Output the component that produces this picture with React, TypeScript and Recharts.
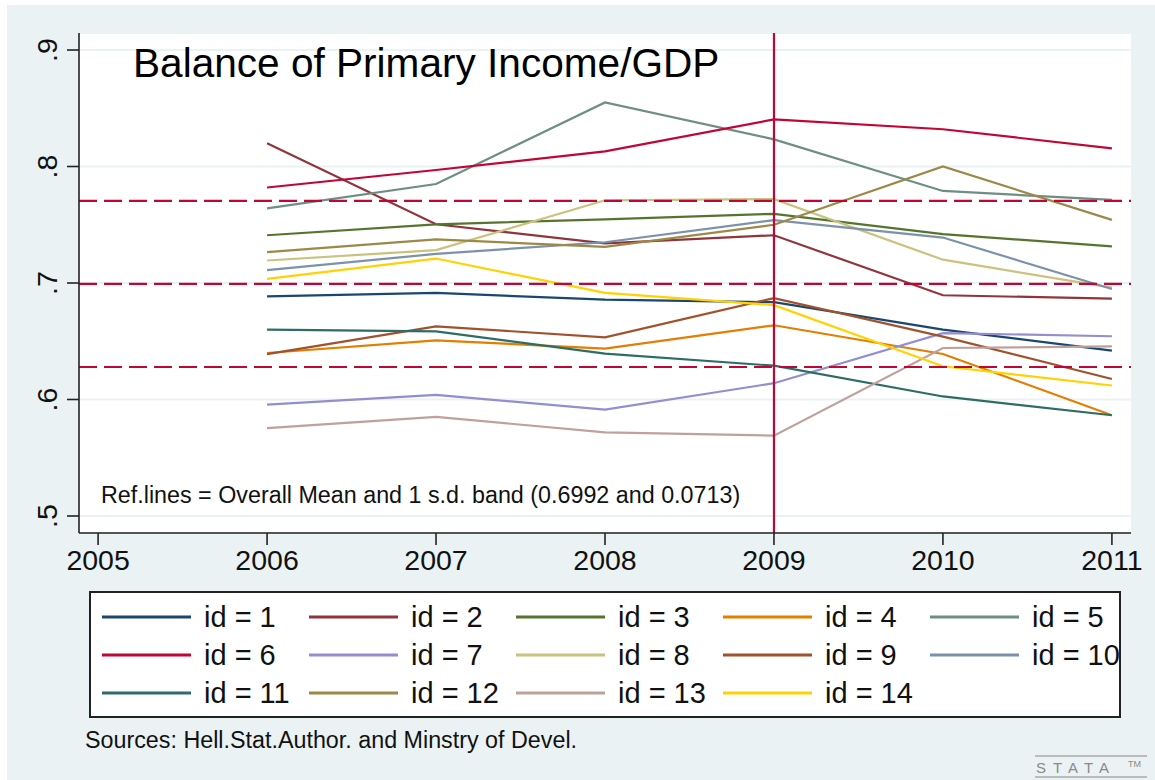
import React from 'react';
import { LineChart, Line, XAxis, YAxis, CartesianGrid, ReferenceLine } from 'recharts';

const FONT = '"Liberation Sans", Arial, Helvetica, sans-serif';

// ---- data ----
const years = [2006, 2007, 2008, 2009, 2010, 2011];
const xTicks = [2005, 2006, 2007, 2008, 2009, 2010, 2011];
const yTicks = [0.5, 0.6, 0.7, 0.8, 0.9];
const yTickLabels = ['.5', '.6', '.7', '.8', '.9'];

const id1 = [0.6886, 0.6915, 0.6857, 0.6835, 0.660, 0.642];
const id2 = [0.820, 0.7504, 0.734, 0.741, 0.6895, 0.6866];
const id3 = [0.741, 0.7504, 0.7547, 0.7594, 0.742, 0.7314];
const id4 = [0.6399, 0.6508, 0.6437, 0.6637, 0.6391, 0.5865];
const id5 = [0.764, 0.785, 0.855, 0.8233, 0.779, 0.7714];
const id6 = [0.782, 0.797, 0.813, 0.8404, 0.832, 0.8156];
const id7 = [0.5956, 0.604, 0.5913, 0.614, 0.657, 0.6543];
const id8 = [0.7193, 0.7282, 0.771, 0.772, 0.720, 0.696];
const id9 = [0.639, 0.6628, 0.6534, 0.687, 0.654, 0.6176];
const id10 = [0.711, 0.725, 0.735, 0.754, 0.739, 0.6949];
const id11 = [0.660, 0.6585, 0.6394, 0.629, 0.6026, 0.5865];
const id12 = [0.7265, 0.7374, 0.731, 0.750, 0.800, 0.7542];
const id13 = [0.5755, 0.585, 0.5718, 0.569, 0.6442, 0.6456];
const id14 = [0.7035, 0.721, 0.6915, 0.681, 0.6285, 0.612];

const seriesValues = [id1, id2, id3, id4, id5, id6, id7, id8, id9, id10, id11, id12, id13, id14];
const seriesLabels = seriesValues.map((_, i) => `id = ${i + 1}`);
const seriesColors = [
  '#1a476f', '#90353b', '#55752f', '#e37e00', '#6e8e84', '#c10534', '#938dd2',
  '#cac27e', '#a0522d', '#7b92a8', '#2d6d66', '#9c8847', '#bfa19c', '#ffd200',
];

const overallMean = 0.6992;
const overallSd = 0.0713;
const refLevels = [overallMean + overallSd, overallMean, overallMean - overallSd];
const cutYear = 2009;

const titleText = 'Balance of Primary Income/GDP';
const noteText = 'Ref.lines = Overall Mean and 1 s.d. band (0.6992 and 0.0713)';
const sourceText = 'Sources: Hell.Stat.Author. and Minstry of Devel.';

const data = years.map((yr, i) => {
  const row: Record<string, number> = { year: yr };
  seriesValues.forEach((vals, s) => {
    row[`s${s + 1}`] = vals[i];
  });
  return row;
});

const XTick = (props: any) => {
  const { x, y, payload } = props;
  return (
    <text x={x} y={y + 23} textAnchor="middle" fontSize={28.5} fontFamily={FONT} fill="#111">
      {payload.value}
    </text>
  );
};

const YTick = (props: any) => {
  const { x, y, payload } = props;
  const idx = yTicks.indexOf(payload.value);
  const label = idx >= 0 ? yTickLabels[idx] : String(payload.value);
  const bx = x - 8;
  return (
    <text
      x={bx}
      y={y}
      textAnchor="middle"
      fontSize={28.5}
      fontFamily={FONT}
      fill="#111"
      transform={`rotate(-90, ${bx}, ${y})`}
    >
      {label}
    </text>
  );
};

export default function App() {
  const legendLeft = 90;
  const legendTop = 592;
  const colW = 207;
  const rowH = 38;
  return (
    <div
      style={{
        position: 'absolute',
        left: 0,
        top: 0,
        width: 1155,
        height: 780,
        background: '#ffffff',
        overflow: 'hidden',
        fontFamily: FONT,
      }}
    >
      <div style={{ position: 'absolute', left: 7, top: 5, right: 0, bottom: 0, background: '#EAF2F3' }} />
      <div style={{ position: 'absolute', left: 0, top: 0 }}>
        <LineChart width={1155} height={780} data={data} margin={{ top: 33, right: 24, bottom: 207, left: 0 }}>
          <CartesianGrid horizontal vertical={false} fill="#ffffff" stroke="#EAF2F3" strokeWidth={2} />
          <XAxis
            type="number"
            dataKey="year"
            domain={[2004.887, 2011.113]}
            ticks={xTicks}
            interval={0}
            allowDataOverflow
            height={40}
            tickSize={12}
            tick={<XTick />}
            axisLine={{ stroke: '#222', strokeWidth: 1.6 }}
            tickLine={{ stroke: '#222', strokeWidth: 1.6 }}
          />
          <YAxis
            type="number"
            domain={[0.4854, 0.9146]}
            ticks={yTicks}
            interval={0}
            allowDataOverflow
            width={79}
            tickSize={12}
            tick={<YTick />}
            axisLine={{ stroke: '#222', strokeWidth: 1.6 }}
            tickLine={{ stroke: '#222', strokeWidth: 1.6 }}
          />
          {seriesValues.map((_, s) => (
            <Line
              key={s}
              type="linear"
              dataKey={`s${s + 1}`}
              stroke={seriesColors[s]}
              strokeWidth={2.2}
              dot={false}
              activeDot={false}
              isAnimationActive={false}
            />
          ))}
          {refLevels.map((lv, i) => (
            <ReferenceLine key={i} y={lv} stroke="#c10534" strokeWidth={2.2} strokeDasharray="18 7" />
          ))}
          <ReferenceLine x={cutYear} stroke="#c10534" strokeWidth={2.2} />
        </LineChart>
      </div>
      <svg
        width={1155}
        height={780}
        style={{ position: 'absolute', left: 0, top: 0, pointerEvents: 'none' }}
      >
        <text x={133} y={77} fontSize={40.6} fontFamily={FONT} fill="#000">
          {titleText}
        </text>
        <text x={101} y={503} fontSize={23.3} fontFamily={FONT} fill="#111">
          {noteText}
        </text>
        <rect
          x={legendLeft}
          y={legendTop}
          width={1030}
          height={125}
          fill="#ffffff"
          stroke="#222"
          strokeWidth={2}
        />
        {seriesLabels.map((lab, i) => {
          const col = i % 5;
          const row = Math.floor(i / 5);
          const lx = 102 + col * colW;
          const cy = 617 + row * rowH;
          return (
            <g key={i}>
              <line x1={lx} x2={lx + 89} y1={cy} y2={cy} stroke={seriesColors[i]} strokeWidth={3} />
              <text x={lx + 102} y={cy + 10} fontSize={29} fontFamily={FONT} fill="#111">
                {lab}
              </text>
            </g>
          );
        })}
        <text x={85} y={748} fontSize={23.3} fontFamily={FONT} fill="#111">
          {sourceText}
        </text>
        <line x1={1035} x2={1147} y1={756} y2={756} stroke="#aaa" strokeWidth={1.5} />
        <line x1={1035} x2={1147} y1={777} y2={777} stroke="#aaa" strokeWidth={1.5} />
        <text x={1036} y={773} fontSize={15} fontFamily={FONT} fill="#8a8a8a" letterSpacing={7}>
          STATA
        </text>
        <text x={1128} y={767} fontSize={9} fontFamily={FONT} fill="#8a8a8a">
          TM
        </text>
      </svg>
    </div>
  );
}
